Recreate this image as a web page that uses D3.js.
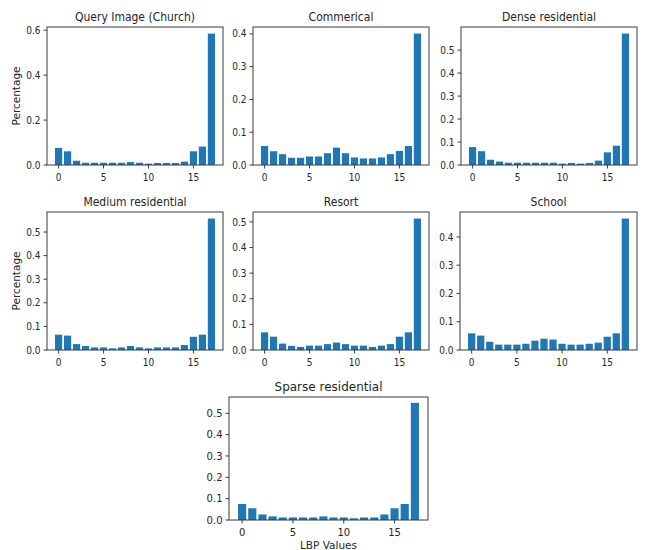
<!doctype html>
<meta charset="utf-8">
<style>
body { margin: 0; background: #fff; }
text { font-family: "DejaVu Sans", sans-serif; fill: #262626; }
</style>
<script src="https://d3js.org/d3.v7.min.js"></script>
<body>
<svg id="chart"></svg>
<script>
// LBP histogram values, bins 0..17
var lbpBins = d3.range(18);
var titles = ["Query Image (Church)", "Commerical", "Dense residential",
              "Medium residential", "Resort", "School", "Sparse residential"];

var church    = [0.076, 0.061, 0.019, 0.010, 0.010, 0.010, 0.010, 0.010, 0.013, 0.010, 0.006, 0.009, 0.009, 0.009, 0.015, 0.061, 0.082, 0.585];
var commerical = [0.058, 0.042, 0.033, 0.022, 0.022, 0.026, 0.026, 0.036, 0.053, 0.036, 0.023, 0.020, 0.020, 0.023, 0.033, 0.043, 0.058, 0.401];
var dense     = [0.078, 0.060, 0.023, 0.015, 0.010, 0.010, 0.010, 0.010, 0.010, 0.010, 0.006, 0.009, 0.006, 0.009, 0.019, 0.055, 0.084, 0.572];
var medium    = [0.065, 0.061, 0.025, 0.017, 0.011, 0.011, 0.007, 0.011, 0.017, 0.011, 0.007, 0.011, 0.011, 0.011, 0.021, 0.056, 0.065, 0.557];
var resort    = [0.069, 0.052, 0.025, 0.016, 0.012, 0.017, 0.017, 0.023, 0.029, 0.023, 0.017, 0.017, 0.012, 0.017, 0.023, 0.052, 0.069, 0.513];
var school    = [0.059, 0.051, 0.029, 0.019, 0.019, 0.019, 0.022, 0.033, 0.040, 0.037, 0.022, 0.019, 0.019, 0.022, 0.026, 0.047, 0.059, 0.465];
var sparse    = [0.075, 0.055, 0.026, 0.017, 0.012, 0.012, 0.012, 0.012, 0.017, 0.012, 0.012, 0.008, 0.012, 0.012, 0.026, 0.055, 0.075, 0.549];

var xTickValues = [0, 5, 10, 15];
var yTicksChurch = [0, 0.2, 0.4, 0.6];
var yTicks04 = [0, 0.1, 0.2, 0.3, 0.4];
var yTicks05 = [0, 0.1, 0.2, 0.3, 0.4, 0.5];

var seriesList = [church, commerical, dense, medium, resort, school, sparse];
var yTickList = [yTicksChurch, yTicks04, yTicks05, yTicks05, yTicks05, yTicks04, yTicks05];

// panel boxes (layout only): left, top, right, bottom, horizontal text squeeze
var boxes = [
  [47, 27, 223, 165, 0.9], [253, 27, 429, 165, 0.9], [461, 27, 637, 165, 0.9],
  [47, 212, 223, 350, 0.9], [253, 212, 429, 350, 0.9], [460, 212, 637, 350, 0.9],
  [229, 397, 428, 520, 1]
];
var withYLabel = [true, false, false, true, false, false, false];

var svg = d3.select("#chart").attr("width", 648).attr("height", 550);

function squeezedText(g, x, y, s, str) {
  return g.append("text")
    .attr("transform", "translate(" + x + "," + y + ") scale(" + s + ",1)")
    .text(str);
}

seriesList.forEach(function(vals, i) {
  var b = boxes[i], sq = b[4];
  var g = svg.append("g");
  var barW = 0.8, pad = (17 + barW) * 0.05;
  var x = d3.scaleLinear().domain([-barW / 2 - pad, 17 + barW / 2 + pad]).range([b[0], b[2]]);
  var y = d3.scaleLinear().domain([0, d3.max(vals) * 1.05]).range([b[3], b[1]]);

  g.selectAll("rect").data(vals).enter().append("rect")
    .attr("x", function(d, k) { return x(lbpBins[k] - barW / 2); })
    .attr("width", x(barW) - x(0))
    .attr("y", function(d) { return y(d); })
    .attr("height", function(d) { return y(0) - y(d); })
    .attr("fill", "#1f77b4");

  // frame
  g.append("rect")
    .attr("x", b[0]).attr("y", b[1])
    .attr("width", b[2] - b[0]).attr("height", b[3] - b[1])
    .attr("fill", "none").attr("stroke", "#3a3a3a").attr("stroke-width", 1);

  // x ticks
  xTickValues.forEach(function(t) {
    g.append("line").attr("x1", x(t)).attr("x2", x(t))
      .attr("y1", b[3]).attr("y2", b[3] + 3.5).attr("stroke", "#3a3a3a");
    squeezedText(g, x(t), b[3] + 15.5, sq, t).attr("text-anchor", "middle").style("font-size", "10px");
  });
  // y ticks
  yTickList[i].forEach(function(t) {
    g.append("line").attr("x1", b[0] - 3.5).attr("x2", b[0])
      .attr("y1", y(t)).attr("y2", y(t)).attr("stroke", "#3a3a3a");
    squeezedText(g, b[0] - 6.5, y(t) + 3.6, sq, d3.format(".1f")(t))
      .attr("text-anchor", "end").style("font-size", "10px");
  });

  squeezedText(g, (b[0] + b[2]) / 2, b[1] - 6, sq, titles[i])
    .attr("text-anchor", "middle").style("font-size", "12px");

  if (withYLabel[i]) {
    g.append("text")
      .attr("transform", "translate(" + (b[0] - 27) + "," + ((b[1] + b[3]) / 2) + ") rotate(-90)")
      .attr("text-anchor", "middle").style("font-size", "10.5px")
      .text("Percentage");
  }
  if (i === 6) {
    g.append("text")
      .attr("x", (b[0] + b[2]) / 2).attr("y", b[3] + 29)
      .attr("text-anchor", "middle").style("font-size", "10.5px")
      .text("LBP Values");
  }
});
</script>
</body>
